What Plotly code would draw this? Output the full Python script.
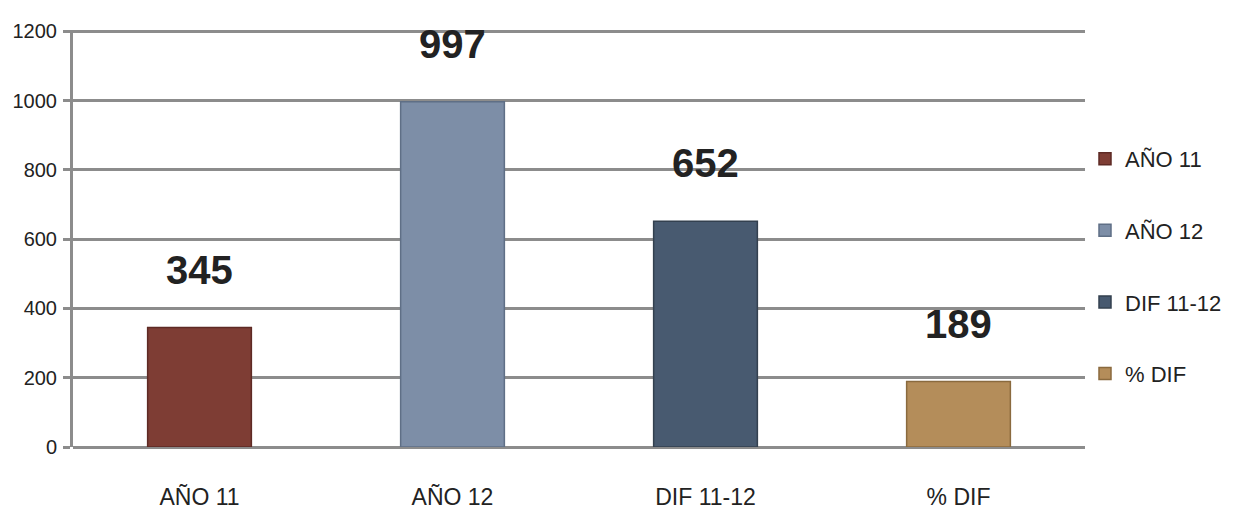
import plotly.graph_objects as go

categories = ["AÑO 11", "AÑO 12", "DIF 11-12", "% DIF"]
values = [345, 997, 652, 189]
colors = ["#7E3D34", "#7D8EA7", "#485A70", "#B48D5A"]
edge_colors = ["#5E2A24", "#5F6F86", "#33404F", "#8A6A3E"]
y_ticks = [0, 200, 400, 600, 800, 1000, 1200]

FONT = "Liberation Sans Narrow, Arial Narrow, Liberation Sans, Arial, sans-serif"

fig = go.Figure()
for i, (c, v) in enumerate(zip(categories, values)):
    fig.add_trace(go.Bar(
        x=[c], y=[v], name=c, legendgroup=c,
        width=0.41,
        marker=dict(color=colors[i], line=dict(color=edge_colors[i], width=1.5)),
        showlegend=True,
    ))
    fig.add_annotation(
        x=c, y=v, text=f"<b>{v}</b>", showarrow=False, yshift=58,
        font=dict(family=FONT, size=40, color="#222222"),
    )

fig.update_layout(
    width=1229, height=502,
    margin=dict(l=65, r=152, t=22, b=63, autoexpand=False),
    paper_bgcolor="white", plot_bgcolor="white",
    barmode="overlay",
    font=dict(family=FONT, color="#222222", size=23),
    legend=dict(
        x=1.0, y=0.433, xanchor="left", yanchor="middle",
        font=dict(family=FONT, size=22, color="#222222"),
        tracegroupgap=40, itemwidth=30,
    ),
    xaxis=dict(
        type="category", showgrid=False, showline=False, zeroline=False,
        tickfont=dict(family=FONT, size=23, color="#222222"),
        ticks="", ticklabelstandoff=34, automargin=False,
    ),
    yaxis=dict(
        range=[0, 1204], tickvals=y_ticks,
        showgrid=True, gridcolor="#8C8C8C", gridwidth=3,
        showline=True, linecolor="#8C8C8C", linewidth=3,
        zeroline=True, zerolinecolor="#8C8C8C", zerolinewidth=3,
        ticks="outside", ticklen=7, tickwidth=3, tickcolor="#8C8C8C",
        tickfont=dict(family=FONT, size=20, color="#222222"),
        ticklabelstandoff=2, automargin=False,
    ),
)

fig.write_html("out.html")
